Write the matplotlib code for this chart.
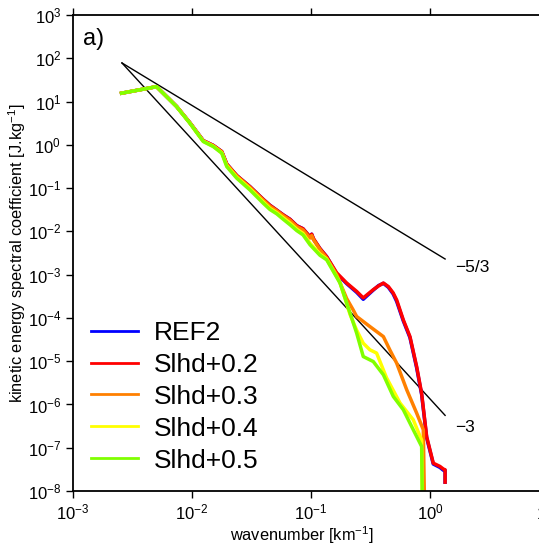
import numpy as np
import matplotlib.pyplot as plt

plt.rcParams['font.family'] = ['Liberation Sans', 'DejaVu Sans']
plt.rcParams['mathtext.fontset'] = 'custom'
plt.rcParams['mathtext.rm'] = 'Liberation Sans'
plt.rcParams['mathtext.it'] = 'Liberation Sans:italic'
plt.rcParams['mathtext.bf'] = 'Liberation Sans:bold'

# wavenumber [km-1] and spectra
k_ref = [2.56e-3, 5.04e-3, 7.43e-3, 9.6e-3, 1.245e-2, 1.51e-2, 1.78e-2, 1.96e-2, 2.38e-2,
         3.07e-2, 3.97e-2, 4.52e-2, 5.15e-2, 5.85e-2, 6.67e-2, 7.6e-2, 8.57e-2, 9.82e-2,
         0.1014, 0.105, 0.119, 0.1355, 0.1644, 0.1995, 0.242, 0.275, 0.334, 0.37, 0.406,
         0.447, 0.49, 0.525, 0.597, 0.679, 0.773, 0.851, 0.938, 1.066, 1.213, 1.30, 1.34, 1.34]
e_ref = [15.6, 22.1, 7.7, 3.25, 1.25, 0.97, 0.70, 0.36, 0.195,
         0.108, 0.055, 0.040, 0.031, 0.024, 0.019, 0.0135, 0.0115, 7.4e-3,
         8.6e-3, 6.6e-3, 4.0e-3, 2.6e-3, 1.05e-3, 6.2e-4, 3.9e-4, 2.7e-4, 4.4e-4, 5.6e-4, 6.3e-4,
         5.1e-4, 3.6e-4, 2.4e-4, 8.5e-5, 3.5e-5, 7.0e-6, 1.7e-6, 1.7e-7, 4.2e-8, 3.5e-8, 3.0e-8, 3.0e-8, 1.6e-8]

k_02 = [2.56e-3, 5.04e-3, 7.43e-3, 9.6e-3, 1.245e-2, 1.51e-2, 1.78e-2, 1.96e-2, 2.38e-2,
        3.07e-2, 3.97e-2, 4.52e-2, 5.15e-2, 5.85e-2, 6.67e-2, 7.6e-2, 8.57e-2, 9.82e-2,
        0.1014, 0.105, 0.119, 0.1355, 0.1644, 0.1995, 0.242, 0.275, 0.334, 0.37, 0.406,
        0.447, 0.49, 0.525, 0.597, 0.679, 0.773, 0.851, 0.938, 1.066, 1.213, 1.30, 1.34, 1.34]
e_02 = [15.6, 22.1, 7.7, 3.25, 1.25, 0.97, 0.70, 0.36, 0.195,
        0.108, 0.055, 0.040, 0.031, 0.024, 0.019, 0.0135, 0.0115, 7.5e-3,
        8.6e-3, 6.8e-3, 4.0e-3, 2.6e-3, 1.1e-3, 6.4e-4, 4.1e-4, 2.9e-4, 4.5e-4, 5.5e-4, 6.4e-4,
        5.3e-4, 3.8e-4, 2.6e-4, 9.0e-5, 3.7e-5, 7.5e-6, 1.8e-6, 1.8e-7, 4.4e-8, 3.7e-8, 3.2e-8, 3.1e-8, 1.6e-8]

k_03 = [2.56e-3, 5.04e-3, 7.43e-3, 9.6e-3, 1.245e-2, 1.51e-2, 1.78e-2, 1.96e-2, 2.38e-2,
        3.07e-2, 3.97e-2, 4.52e-2, 5.15e-2, 5.85e-2, 6.67e-2, 7.6e-2, 8.57e-2, 9.82e-2,
        0.1014, 0.105, 0.119, 0.1355, 0.1644, 0.18, 0.1995, 0.226, 0.242, 0.313, 0.406,
        0.461, 0.525, 0.637, 0.773, 0.879, 0.908]
e_03 = [15.6, 22.1, 7.7, 3.2, 1.23, 0.95, 0.68, 0.35, 0.19,
        0.104, 0.053, 0.038, 0.030, 0.023, 0.018, 0.0128, 0.0108, 7.0e-3,
        8.0e-3, 6.4e-3, 3.8e-3, 2.4e-3, 1.0e-3, 5.5e-4, 2.8e-4, 1.54e-4, 1.08e-4, 6.3e-5, 3.7e-5,
        1.8e-5, 9.0e-6, 2.2e-6, 6.3e-7, 2.6e-7, 1e-9]

k_04 = [2.56e-3, 5.04e-3, 7.43e-3, 9.6e-3, 1.245e-2, 1.51e-2, 1.78e-2, 1.96e-2, 2.38e-2,
        3.07e-2, 3.97e-2, 4.52e-2, 5.15e-2, 5.85e-2, 6.67e-2, 7.6e-2, 8.57e-2, 9.82e-2,
        0.119, 0.1355, 0.1754, 0.213, 0.242, 0.275, 0.313, 0.356, 0.432, 0.56, 0.724,
        0.851, 0.869]
e_04 = [15.6, 22.1, 7.65, 3.2, 1.21, 0.93, 0.66, 0.33, 0.178,
        0.097, 0.048, 0.034, 0.027, 0.0205, 0.0155, 0.0112, 9.0e-3, 5.3e-3,
        3.0e-3, 2.3e-3, 6.6e-4, 1.2e-4, 5.2e-5, 2.6e-5, 1.83e-5, 1.54e-5, 4.1e-6, 1.08e-6, 4.4e-7,
        1.5e-7, 1e-9]

k_05 = [2.56e-3, 5.04e-3, 7.43e-3, 9.6e-3, 1.245e-2, 1.51e-2, 1.78e-2, 1.96e-2, 2.38e-2,
        3.07e-2, 3.97e-2, 4.52e-2, 5.15e-2, 5.85e-2, 6.67e-2, 7.6e-2, 8.57e-2, 9.82e-2,
        0.119, 0.1355, 0.1754, 0.213, 0.242, 0.275, 0.334, 0.406, 0.492, 0.597, 0.724,
        0.851, 0.869]
e_05 = [15.6, 22.1, 7.6, 3.15, 1.19, 0.91, 0.64, 0.314, 0.169,
        0.0908, 0.0448, 0.032, 0.0255, 0.019, 0.0142, 0.0104, 8.3e-3, 4.9e-3,
        2.8e-3, 2.2e-3, 6.4e-4, 1.29e-4, 4.46e-5, 1.28e-5, 9.8e-6, 4.85e-6, 1.53e-6, 7.55e-7, 2.6e-7,
        1.07e-7, 1e-9]

# reference slopes
k_slope = [2.58e-3, 1.34]
e_53 = [78, 2.3e-3]
e_3 = [78, 5.6e-7]

fig = plt.figure(figsize=(5.39, 5.48), dpi=100)
ax = fig.add_axes([0.1354, 0.104, 0.8831, 0.8686])

ax.plot(k_slope, e_53, color='black', lw=1.0)
ax.plot(k_slope, e_3, color='black', lw=1.0)

ax.plot(k_ref, e_ref, color='#0000ff', lw=2.5, label='REF2')
ax.plot(k_02, e_02, color='#ff0000', lw=2.5, label='Slhd+0.2')
ax.plot(k_03, e_03, color='#ff8000', lw=2.5, label='Slhd+0.3')
ax.plot(k_04, e_04, color='#ffff00', lw=2.5, label='Slhd+0.4')
ax.plot(k_05, e_05, color='#80ff00', lw=2.5, label='Slhd+0.5')

ax.set_xscale('log')
ax.set_yscale('log')
ax.set_xlim(1e-3, 1e1)
ax.set_ylim(1e-8, 1e3)
ax.set_xticks([1e-3, 1e-2, 1e-1, 1e0, 1e1])
ax.set_yticks([10.0 ** p for p in range(-8, 4)])
ax.minorticks_off()
ax.tick_params(which='both', direction='out', length=5, width=1, top=True,
               labeltop=False, labelsize=12)
ax.spines['right'].set_visible(False)
for s in ['left', 'bottom', 'top']:
    ax.spines[s].set_linewidth(1.3)

ax.set_xlabel('wavenumber [km$^{-1}$]', fontsize=11.8)
ax.set_ylabel('kinetic energy spectral coefficient [J.kg$^{-1}$]', fontsize=11.8)
ax.xaxis.set_label_coords(0.481, -0.069)
ax.yaxis.set_label_coords(-0.094, 0.5)

ax.text(0.02, 0.972, 'a)', transform=ax.transAxes, fontsize=17, va='top', ha='left')
ax.text(1.62, 1.43e-3, '\u22125/3', fontsize=12.5, va='center', ha='left')
ax.text(1.62, 2.9e-7, '\u22123', fontsize=12.5, va='center', ha='left')

leg = ax.legend(loc='lower left', bbox_to_anchor=(0.0, 0.0), frameon=False, fontsize=19,
                handlelength=1.78, handletextpad=0.6, labelspacing=0.3, borderaxespad=0.3)
for ln in leg.get_lines():
    ln.set_linewidth(2.0)

fig.savefig('out.png', dpi=100)
